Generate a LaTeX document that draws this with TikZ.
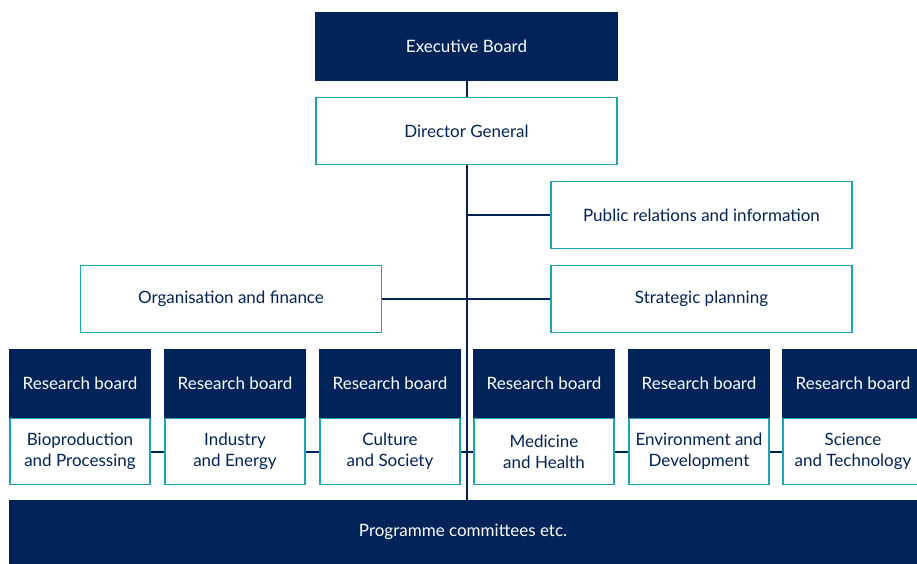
\documentclass[tikz,border=0pt]{standalone}
\usepackage{fontspec}
\setmainfont{Lato}
\definecolor{navy}{HTML}{00235A}
\definecolor{tealc}{HTML}{1AA7B5}
\begin{document}
\begin{tikzpicture}[x=1pt,y=-1pt,
  every node/.style={font=\fontsize{17}{21}\selectfont, align=center, inner sep=0pt},
  darkbox/.style={fill=navy, draw=none, text=white},
  lightbox/.style={fill=white, draw=tealc, line width=1.8pt, text=navy},
  wide/.style={minimum width=301, minimum height=67},
  rbtop/.style={darkbox, minimum width=142, minimum height=69},
  rbbot/.style={lightbox, minimum width=140.2, minimum height=66},
  conn/.style={draw=navy, line width=2pt}]
\useasboundingbox (0,0) rectangle (917,564);
% top boxes
\node[darkbox, minimum width=303, minimum height=69] (exec) at (466.5,46.5) {Executive Board};
\node[lightbox, wide] (dg) at (466.5,131) {Director General};
\node[lightbox, wide] (pr) at (701.5,215) {Public relations and information};
\node[lightbox, wide] (org) at (231,299) {Organisation and finance};
\node[lightbox, wide] (sp) at (701.5,299) {Strategic planning};
% research boards
\foreach \i/\cx/\txt in {1/80/{Bioproduction\\and Processing},2/235/{Industry\\and Energy},3/390/{Culture\\and Society},4/544/{Medicine\\and Health},5/699/{Environment and\\Development},6/853/{Science\\and Technology}}{
  \node[rbbot] (bb\i) at (\cx,451.5) {\txt};
  \node[rbtop] (rb\i) at (\cx,383.5) {Research board};
}
% bottom
\node[darkbox, minimum width=908, minimum height=64] (prog) at (463,532) {Programme committees etc.};
% connectors
\draw[conn] (exec.south) -- (dg.north);
\draw[conn] (dg.south) -- (prog.north -| dg.south);
\draw[conn] (pr.west) -- (pr.west -| dg.south);
\draw[conn] (org.east) -- (sp.west);
\draw[conn] (bb1.east) -- (bb2.west);
\draw[conn] (bb2.east) -- (bb3.west);
\draw[conn] (bb3.east) -- (bb4.west);
\draw[conn] (bb4.east) -- (bb5.west);
\draw[conn] (bb5.east) -- (bb6.west);
\end{tikzpicture}
\end{document}
